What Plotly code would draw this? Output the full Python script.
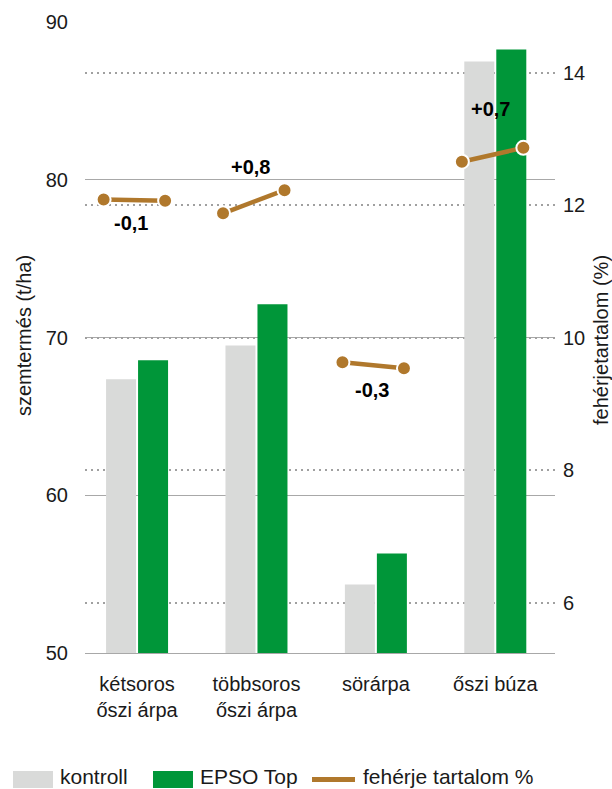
import plotly.graph_objects as go

# ---- data ----
categories = ["kétsoros<br>őszi árpa", "többsoros<br>őszi árpa", "sörárpa", "őszi búza"]
yield_kontroll = [67.35, 69.5, 54.35, 87.5]
yield_epso = [68.55, 72.1, 56.3, 88.25]
protein_kontroll = [12.09, 11.88, 9.63, 12.66]
protein_epso = [12.07, 12.23, 9.54, 12.87]
protein_diff_labels = ["-0,1", "+0,8", "-0,3", "+0,7"]
left_ticks = [50, 60, 70, 80, 90]
right_ticks = [6, 8, 10, 12, 14]
legend_names = ["kontroll", "EPSO Top", "fehérje tartalom %"]

# ---- style / layout ----
W, H = 612, 789
L, R, T, B = 85, 555, 22, 653
GRAY = "#D9DAD9"
GREEN = "#009639"
BROWN = "#B0782C"
TXT = "#1a1a1a"
FONT = "Liberation Sans, Arial, sans-serif"

def px(x, y):
    return (x - L) / (R - L), (B - y) / (B - T)

idx = list(range(len(categories)))
line_x, line_y = [], []
for i, a, b in zip(idx, protein_kontroll, protein_epso):
    line_x += [i - 0.28, i + 0.235, None]
    line_y += [a, b, None]

fig = go.Figure()
fig.add_trace(go.Bar(x=idx, y=yield_kontroll, name=legend_names[0],
                     marker=dict(color=GRAY, line=dict(width=0)), showlegend=False))
fig.add_trace(go.Bar(x=idx, y=yield_epso, name=legend_names[1],
                     marker=dict(color=GREEN, line=dict(width=0)), showlegend=False))
fig.add_trace(go.Scatter(x=line_x, y=line_y, yaxis="y2", mode="lines+markers",
                         name=legend_names[2], connectgaps=False,
                         line=dict(color=BROWN, width=4.5),
                         marker=dict(size=14, color=BROWN, line=dict(color="white", width=2)),
                         showlegend=False, cliponaxis=False))

label_px = [(131, 223), (250, 167), (372, 390), (490, 109)]
annotations = []
for txt, (ax_, ay_) in zip(protein_diff_labels, label_px):
    xp, yp = px(ax_, ay_)
    annotations.append(dict(x=xp, y=yp, xref="paper", yref="paper", text=f"<b>{txt}</b>",
                            showarrow=False, font=dict(size=20, color="black", family=FONT),
                            xanchor="center", yanchor="middle"))

# axis titles as rotated text
xp, yp = px(24, 336)
annotations.append(dict(x=xp, y=yp, xref="paper", yref="paper", text="szemtermés (t/ha)",
                        textangle=-90, showarrow=False, font=dict(size=20, color=TXT, family=FONT),
                        xanchor="center", yanchor="middle"))
xp, yp = px(601, 340)
annotations.append(dict(x=xp, y=yp, xref="paper", yref="paper", text="fehérjetartalom (%)",
                        textangle=-90, showarrow=False, font=dict(size=20, color=TXT, family=FONT),
                        xanchor="center", yanchor="middle"))

# manual legend
shapes = []
legend_items = [("rect", GRAY, 13, 53, 59), ("rect", GREEN, 153, 193, 199), ("line", BROWN, 312, 355, 362)]
for (kind, col, x0, x1, tx), name in zip(legend_items, legend_names):
    if kind == "rect":
        a0, b0 = px(x0, 771)
        a1, b1 = px(x1, 788)
        shapes.append(dict(type="rect", xref="paper", yref="paper", x0=a0, x1=a1, y0=b0, y1=b1,
                           fillcolor=col, line=dict(width=0)))
    else:
        a0, b0 = px(x0, 779.5)
        a1, _ = px(x1, 779.5)
        shapes.append(dict(type="line", xref="paper", yref="paper", x0=a0, x1=a1, y0=b0, y1=b0,
                           line=dict(color=col, width=5)))
    tx_, ty_ = px(tx, 788.5)
    annotations.append(dict(x=tx_, y=ty_, xref="paper", yref="paper", text=name, showarrow=False,
                            font=dict(size=21, color=TXT, family=FONT), xanchor="left", yanchor="bottom",
                            borderpad=0))

fig.update_layout(
    width=W, height=H,
    margin=dict(l=L, r=W - R, t=T, b=H - B, autoexpand=False),
    paper_bgcolor="white", plot_bgcolor="white",
    barmode="group", bargap=0.464, bargroupgap=0.0625,
    font=dict(family=FONT, size=20, color=TXT),
    xaxis=dict(tickmode="array", tickvals=idx, ticktext=categories,
               range=[-0.436, 3.5], showgrid=False, zeroline=False,
               showline=True, linecolor="#a8a8a8", linewidth=1.3,
               ticks="", ticklabelstandoff=13, tickfont=dict(size=20, color=TXT)),
    yaxis=dict(range=[50, 90], tickvals=left_ticks, showgrid=True, gridcolor="#a8a8a8",
               gridwidth=1.3, zeroline=False, ticks="", ticklabelstandoff=16,
               tickfont=dict(size=20, color=TXT)),
    yaxis2=dict(range=[5.24, 14.77], tickvals=right_ticks, overlaying="y", side="right",
                showgrid=True, gridcolor="#a0a0a0", gridwidth=2, griddash="2px,4px",
                zeroline=False, ticks="", ticklabelstandoff=7,
                tickfont=dict(size=20, color=TXT)),
    annotations=annotations, shapes=shapes,
    showlegend=False,
)

fig.write_html("out.html")
